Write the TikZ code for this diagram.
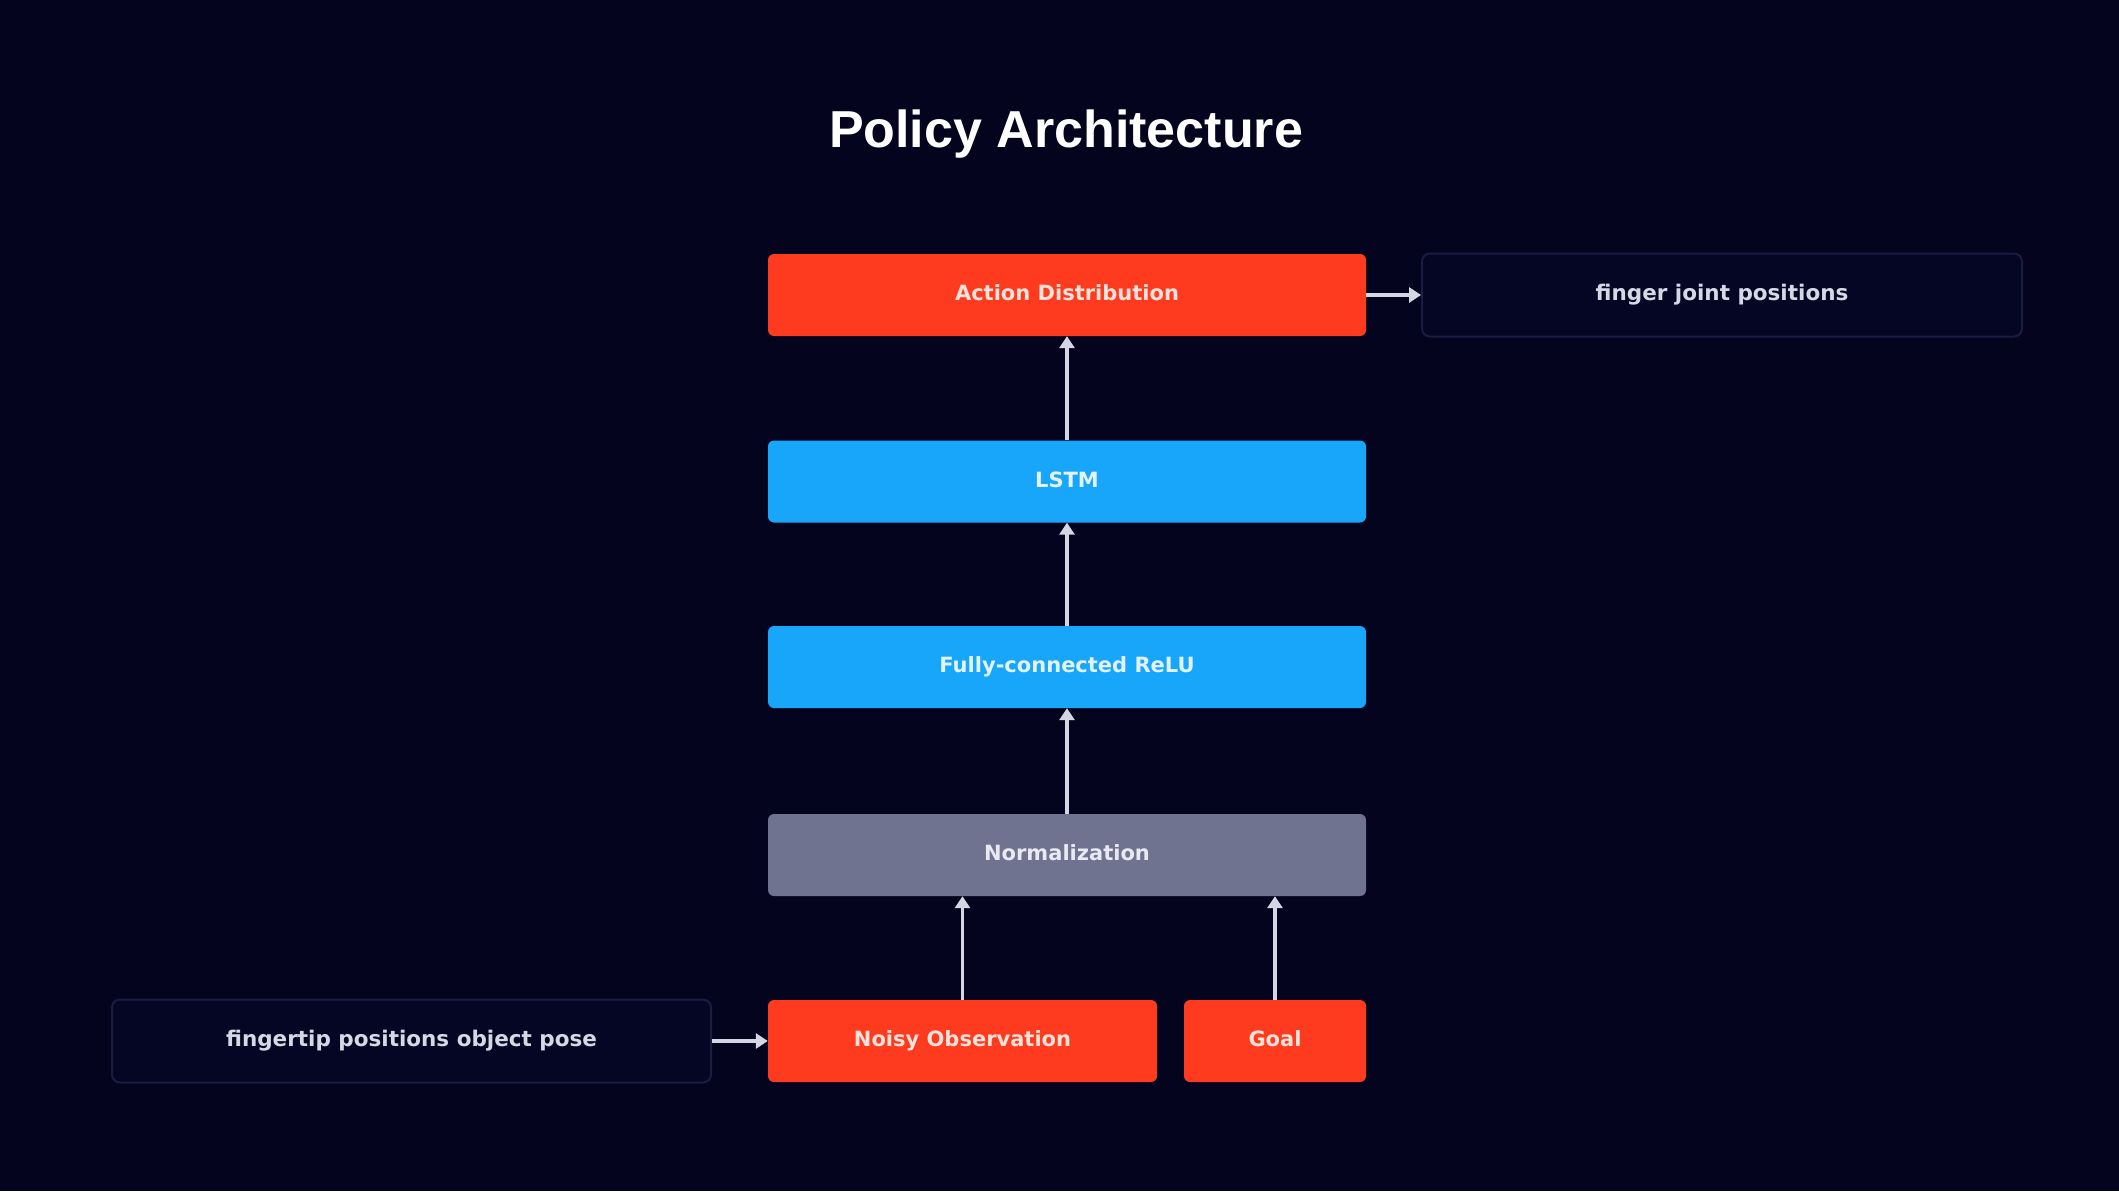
\documentclass[tikz,border=0pt]{standalone}
\usepackage{fontspec}
\setmainfont{Liberation Sans}
\newfontfamily\boxfont{DejaVu Sans}
\usetikzlibrary{arrows.meta}
\definecolor{bg}{RGB}{4,4,31}
\definecolor{redbox}{RGB}{255,59,31}
\definecolor{bluebox}{RGB}{24,166,250}
\definecolor{graybox}{RGB}{112,115,144}
\definecolor{sidefill}{RGB}{5,5,36}
\definecolor{sideline}{RGB}{26,28,64}
\definecolor{arrowc}{RGB}{212,214,228}
\definecolor{redtext}{RGB}{252,226,218}
\definecolor{bluetext}{RGB}{226,242,255}
\definecolor{graytext}{RGB}{232,233,242}
\definecolor{sidetext}{RGB}{214,216,230}
\tikzset{
  layerbox/.style={rounded corners=6pt, inner sep=0pt, minimum height=82pt,
    text height=15.5pt, text depth=4.5pt,
    font=\boxfont\bfseries\fontsize{21}{25}\selectfont},
  redl/.style={layerbox, fill=redbox, text=redtext},
  bluel/.style={layerbox, fill=bluebox, text=bluetext},
  grayl/.style={layerbox, fill=graybox, text=graytext},
  sidebox/.style={rounded corners=8pt, inner sep=0pt, minimum height=83pt,
    text height=15.5pt, text depth=4.5pt,
    minimum width=600pt, draw=sideline, line width=2pt, fill=sidefill, text=sidetext,
    font=\boxfont\bfseries\fontsize{21.5}{25}\selectfont},
  arr/.style={draw=arrowc, line width=3.5pt, -{Triangle[width=15pt,length=12pt]}}
}
\begin{document}
\begin{tikzpicture}[x=1pt,y=-1pt]
\fill[bg] (0,0) rectangle (2119,1191);
\useasboundingbox (0,0) rectangle (2119,1191);
\node[text=white, font=\bfseries\fontsize{52}{60}\selectfont] (title) at (1066,134) {Policy Architecture};
\node[redl, minimum width=598pt] (ad) at (1067,295) {Action Distribution};
\node[bluel, minimum width=598pt] (lstm) at (1067,481.5) {LSTM};
\node[bluel, minimum width=598pt] (fc) at (1067,667) {Fully-connected ReLU};
\node[grayl, minimum width=598pt] (norm) at (1067,855) {Normalization};
\node[redl, minimum width=389pt] (noisy) at (962.5,1041) {Noisy Observation};
\node[redl, minimum width=182pt] (goal) at (1275,1041) {Goal};
\node[sidebox] (fj) at (1722,295) {finger joint positions};
\node[sidebox, minimum width=599pt] (obs) at (411.5,1041) {fingertip positions object pose};
\draw[arr] (ad.east) -- (fj.west);
\draw[arr] (obs.east) -- (noisy.west);
\draw[arr] (lstm.north) -- (ad.south);
\draw[arr] (fc.north) -- (lstm.south);
\draw[arr] (norm.north) -- (fc.south);
\draw[arr] (noisy.north) -- (noisy.north |- norm.south);
\draw[arr] (goal.north) -- (goal.north |- norm.south);
\end{tikzpicture}
\end{document}
